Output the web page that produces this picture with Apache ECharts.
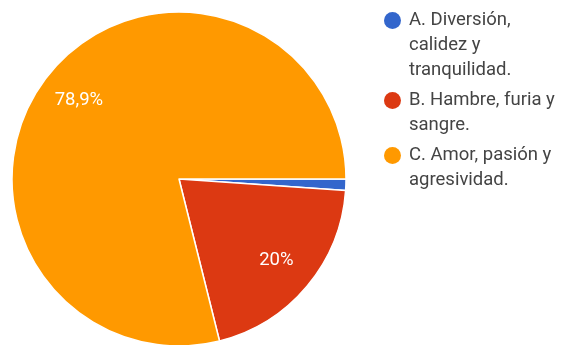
<!DOCTYPE html>
<html>
<head>
<meta charset="utf-8">
<script src="https://cdn.jsdelivr.net/npm/echarts@6/dist/echarts.min.js"></script>
<style>
  html, body { margin: 0; padding: 0; background: #fff; }
  #chart { width: 563px; height: 345px; }
</style>
</head>
<body>
<div id="chart"></div>
<script>
// Survey answers and their share of responses (%)
const categories = [
  'A. Diversión, calidez y tranquilidad.',
  'B. Hambre, furia y sangre.',
  'C. Amor, pasión y agresividad.'
];
const values = [1.1, 20, 78.9];
const colors = ['#3366cc', '#dc3912', '#ff9900'];
// Legend text broken into lines as displayed
const legendLines = [
  ['A. Diversión,', 'calidez y', 'tranquilidad.'],
  ['B. Hambre, furia y', 'sangre.'],
  ['C. Amor, pasión y', 'agresividad.']
];
// Slices too thin to carry a percentage label
const hideLabel = [true, false, false];

const R = 167;
const center = [179, 179];

const pieData = categories.map((name, i) => ({
  name,
  value: values[i],
  itemStyle: { color: colors[i] }
}));

const labelData = categories.map((name, i) => ({
  name,
  value: values[i],
  label: { show: !hideLabel[i] }
}));

const rich = {
  t: { fontFamily: 'Roboto', fontSize: 18.5, color: '#444', lineHeight: 25 },
  sp: { width: 25, lineHeight: 25 }
};
colors.forEach((c, i) => {
  rich['d' + i] = {
    width: 17, height: 17, borderRadius: 8.5, backgroundColor: c,
    lineHeight: 25
  };
  rich['g' + i] = { width: 8, lineHeight: 25 };
});

const chart = echarts.init(document.getElementById('chart'), null, { renderer: 'canvas' });
chart.setOption({
  animation: false,
  legend: {
    orient: 'vertical',
    left: 383,
    top: 11,
    padding: 0,
    itemGap: 11,
    itemWidth: 0,
    itemHeight: 0,
    icon: 'circle',
    selectedMode: false,
    data: categories,
    textStyle: { rich, padding: [0, 0, 0, -5] },
    formatter: (name) => {
      const i = categories.indexOf(name);
      return legendLines[i].map((line, k) =>
        (k === 0 ? `{d${i}|}{g${i}|}` : '{sp|}') + `{t|${line}}`
      ).join('\n');
    }
  },
  series: [
    {
      type: 'pie',
      center,
      radius: [0, R],
      startAngle: 0,
      clockwise: true,
      silent: true,
      label: { show: false },
      labelLine: { show: false },
      itemStyle: { borderColor: '#fff', borderWidth: 1.5 },
      data: pieData
    },
    {
      // transparent ring that places the percentage labels near 3/4 radius
      type: 'pie',
      center,
      radius: [81, R],
      startAngle: 0,
      clockwise: true,
      silent: true,
      itemStyle: { color: 'rgba(0,0,0,0)' },
      labelLine: { show: false },
      label: {
        position: 'inside',
        color: '#fff',
        fontFamily: 'Roboto',
        fontSize: 18.5,
        formatter: (p) => String(p.value).replace('.', ',') + '%'
      },
      data: labelData
    }
  ]
});
</script>
</body>
</html>
